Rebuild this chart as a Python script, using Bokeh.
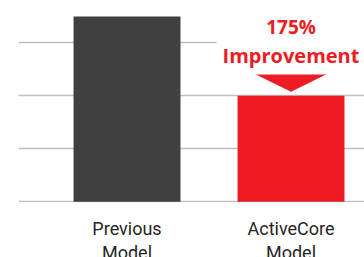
from bokeh.plotting import figure
from bokeh.models import Range1d, Label, FixedTicker
from bokeh.embed import file_html
from bokeh.resources import INLINE

categories = ["Previous\nModel", "ActiveCore\nModel"]
values = [3.5, 2.0]
colors = ["#404040", "#ed1c24"]
annotation_pct = "175%"
annotation_txt = "Improvement"
grid_ticks = [0, 1, 2, 3]

xs = [1, 2]
bar_w = 0.652

p = figure(frame_width=346, frame_height=202, output_backend="svg", toolbar_location=None,
           x_range=Range1d(0.3384, 2.448), y_range=Range1d(-0.015, 3.80),
           min_border_left=18, min_border_right=0, min_border_top=0, min_border_bottom=0)
p.outline_line_color = None
p.background_fill_color = "white"
p.border_fill_color = "white"

p.vbar(x=xs, top=values, width=bar_w, color=colors, line_color=None)

# annotation arrow above the ActiveCore bar
cx = xs[1]
tw = 0.245
p.patch(x=[cx - tw, cx + tw, cx + 0.0],
        y=[values[1] + 0.45, values[1] + 0.45, values[1] + 0.075],
        color="#ed1c24", line_color=None)

p.add_layout(Label(x=cx, y=values[1] + 0.77, text=annotation_txt, text_align="center",
                   text_baseline="middle", text_font="Open Sans", text_font_style="bold",
                   text_font_size="20px", text_color="#ed1c24", padding=6,
                   background_fill_color="white", background_fill_alpha=1.0))
p.add_layout(Label(x=cx, y=values[1] + 1.30, text=annotation_pct, text_align="center",
                   text_baseline="middle", text_font="Open Sans", text_font_style="bold",
                   text_font_size="19px", text_color="#ed1c24"))

p.xgrid.grid_line_color = None
p.ygrid.grid_line_color = "#c0c0c0"
p.ygrid.grid_line_width = 1.5
p.ygrid.ticker = FixedTicker(ticks=grid_ticks)

p.yaxis.visible = False
p.xaxis.ticker = FixedTicker(ticks=xs)
p.xaxis.major_label_overrides = {x: c for x, c in zip(xs, categories)}
p.xaxis.axis_line_color = None
p.xaxis.major_tick_line_color = None
p.xaxis.minor_tick_line_color = None
p.xaxis.major_tick_out = 0
p.xaxis.major_tick_in = 0
p.xaxis.minor_tick_out = 0
p.xaxis.major_label_text_font = "Roboto"
p.xaxis.major_label_text_font_size = "18px"
p.xaxis.major_label_text_color = "#262626"
p.xaxis.major_label_text_line_height = 1.15
p.xaxis.major_label_standoff = 15

open("out.html", "w").write(file_html(p, INLINE))
